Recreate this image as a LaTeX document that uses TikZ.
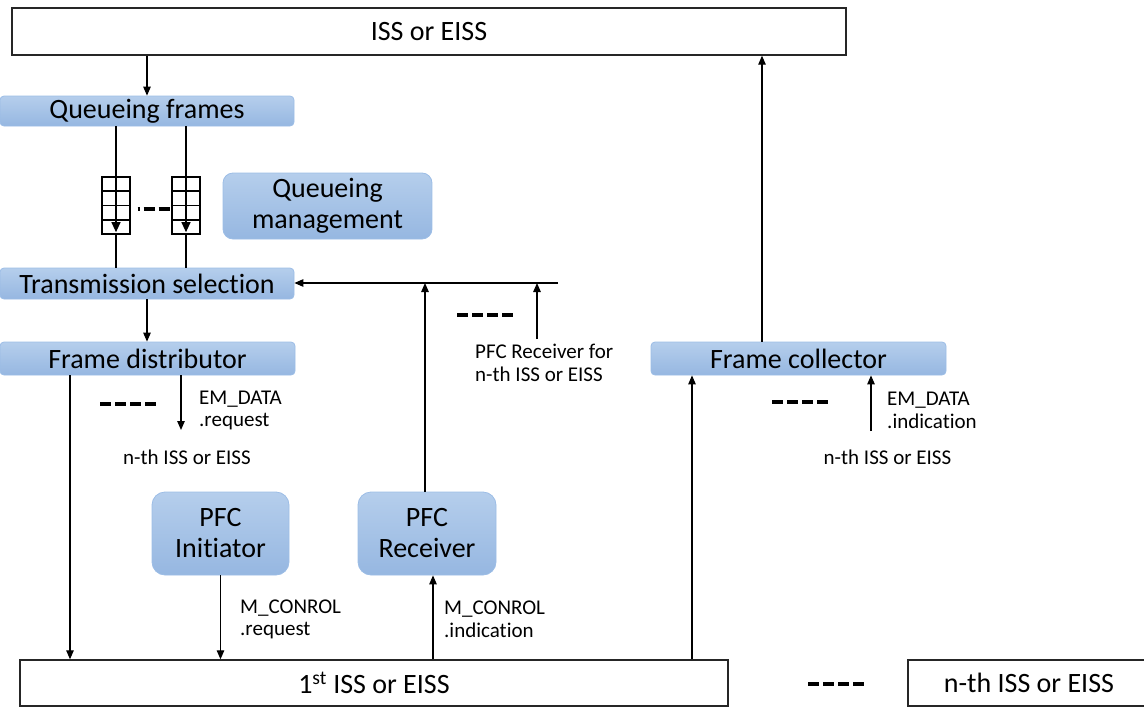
\documentclass[tikz,border=0pt]{standalone}
\usepackage{fontspec}
\setmainfont{Carlito}[Ligatures=NoCommon]
\usetikzlibrary{arrows.meta,calc}
\newcommand\myBig{\fontsize{28}{31}\selectfont}
\newcommand\mySmall{\fontsize{21}{22.7}\selectfont}
\definecolor{boxtop}{HTML}{B5CEEC}
\definecolor{boxbot}{HTML}{96B7E1}
\definecolor{boxedge}{HTML}{9CBDE6}
\tikzset{
  bluebox/.style={draw=boxedge, line width=0.8pt, top color=boxtop, bottom color=boxbot,
    rounded corners=4pt, inner sep=0pt, font=\myBig, align=center},
  bigblue/.style={bluebox, rounded corners=13pt},
  issbox/.style={draw=black!85, line width=1.4pt, fill=white, inner sep=0pt, font=\myBig},
  queuebox/.style={draw=black, line width=1.3pt, minimum width=28pt, minimum height=57pt, inner sep=0pt},
  conn/.style={line width=1.2pt, draw=black},
  arr/.style={conn, -{Triangle[length=9pt,width=7.5pt]}},
  qarr/.style={conn, -{Triangle[length=10pt,width=9pt]}},
  dots/.style={line width=3.5pt, dash pattern=on 10.5pt off 4.5pt},
  lbl/.style={font=\mySmall, align=left, inner sep=0pt},
}
\begin{document}
\begin{tikzpicture}[x=1pt,y=-1pt]
\useasboundingbox (0,0) rectangle (1144,707);
% boxes
\node[issbox, minimum width=834pt, minimum height=47pt] (isstop) at (429,31.5) {ISS or EISS};
\node[bluebox, minimum width=294pt, minimum height=30pt] (qf) at (147,111) {Queueing frames};
\node[bigblue, minimum width=209pt, minimum height=66pt, rounded corners=10pt] (qm) at (327.5,206) {Queueing\\management};
\node[bluebox, minimum width=294pt, minimum height=31pt] (ts) at (147,283.5) {Transmission selection};
\node[bluebox, minimum width=295pt, minimum height=33pt] (fd) at (147.5,358.5) {Frame distributor};
\node[bluebox, minimum width=295pt, minimum height=33pt] (fc) at (798.5,358.5) {Frame collector};
\node[bigblue, minimum width=137pt, minimum height=83pt] (pi) at (220.5,533.5) {PFC\\Initiator};
\node[bigblue, minimum width=138pt, minimum height=83pt] (pr) at (427,533.5) {PFC\\Receiver};
\node[issbox, minimum width=708pt, minimum height=46pt] (iss1) at (374,683) {1\textsuperscript{st} ISS or EISS};
\node[issbox, minimum width=242pt, minimum height=46pt] (issn) at (1029,683) {n-th ISS or EISS};
% queues
\node[queuebox] (q1) at (116,205.5) {};
\node[queuebox] (q2) at (186,205.5) {};
\foreach \q in {q1,q2}{
  \foreach \f in {0.25,0.5,0.75}{
    \draw[line width=1.3pt] ($(\q.north west)!\f!(\q.south west)$) -- ($(\q.north east)!\f!(\q.south east)$);
  }
  \draw[qarr] (qf.south -| \q) -- ([yshift=2.5pt]\q.south);
  \draw[conn] (\q.south) -- (ts.north -| \q);
}
\draw[line width=3.2pt, dash pattern=on 2.3pt off 3.7pt on 11.6pt off 3.4pt on 11.3pt off 20pt] (137.7,209) -- (170.5,209);
% coordinates
\coordinate (emreq) at (181,430);
\coordinate (tsin) at (558,283);
\coordinate (pfcn) at (537,339);
\coordinate (emind) at (871,431);
% connectors
\draw[arr] (isstop.south -| qf) -- (qf.north);
\draw[arr] (ts.south) -- (fd.north -| ts);
\draw[arr] (fd.south -| 70,0) -- (iss1.north -| 70,0);
\draw[arr] (fd.south -| emreq) -- (emreq);
\draw[arr] (pi.south) -- (iss1.north -| pi);
\draw[arr] (iss1.north -| 433,0) -- (pr.south -| 433,0);
\draw[arr] (pr.north -| 425,0) -- (tsin -| 425,0);
\draw[arr] (tsin) -- (ts.east |- tsin);
\draw[arr] (pfcn) -- (tsin -| pfcn);
\draw[arr] (iss1.north -| 692,0) -- (fc.south -| 692,0);
\draw[arr] (fc.north -| 762,0) -- (isstop.south -| 762,0);
\draw[arr] (emind) -- (fc.south -| emind);
% dashes
\draw[dots] (100,404) -- (156,404);
\draw[dots] (457,315) -- (513,315);
\draw[dots] (772,402) -- (828,402);
\draw[dots] (808,684) -- (864,684);
% labels
\node[lbl, anchor=west] (l1) at (199,410.5) {EM\_DATA\\.request};
\node[lbl] (l2) at (187,457) {n-th ISS or EISS};
\node[lbl, anchor=west] (l3) at (475,363) {PFC Receiver for\\n-th ISS or EISS};
\node[lbl, anchor=west] (l4) at (240,619.5) {M\_CONROL\\.request};
\node[lbl, anchor=west] (l5) at (444,619.5) {M\_CONROL\\.indication};
\node[lbl, anchor=west] (l6) at (887,410.5) {EM\_DATA\\.indication};
\node[lbl] (l7) at (887.5,457) {n-th ISS or EISS};
\end{tikzpicture}
\end{document}
